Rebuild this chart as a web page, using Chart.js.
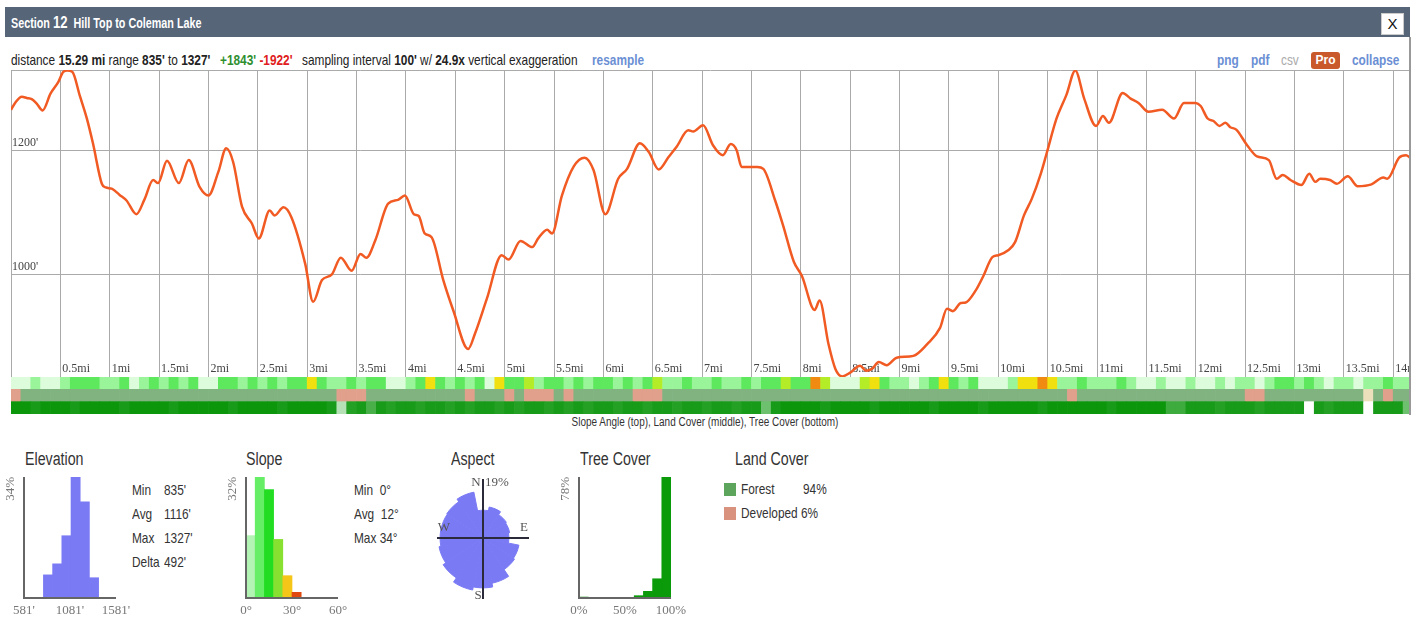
<!DOCTYPE html>
<html>
<head>
<meta charset="utf-8">
<script src="https://cdn.jsdelivr.net/npm/chart.js@4.4.1/dist/chart.umd.min.js"></script>
<style>
  body { margin: 0; width: 1418px; height: 619px; background: #fff; position: relative; overflow: hidden;
         font-family: "Liberation Sans", Arial, sans-serif; color: #222; }
  .abs { position: absolute; white-space: nowrap; }
  .nw { transform: scaleX(0.79); transform-origin: 0 50%; }
  #header { left: 5px; top: 7px; width: 1405px; height: 30px; background: #566578; }
  #title { left: 11px; top: 13px; color: #fff; font-weight: bold; font-size: 14px; transform: scaleX(0.77); transform-origin: 0 50%; }
  #title b { font-size: 17px; }
  #close { left: 1381px; top: 13px; width: 21px; height: 20px; background: #fff; border: 1px solid #ccc;
           font: 15px "Liberation Sans", sans-serif; text-align: center; line-height: 20px; color: #111; }
  .stat { top: 51px; font-size: 15px; }
  .stat b { font-weight: bold; }
  .link { color: #6b8fd4; font-weight: bold; }
  #pro { left: 1311px; top: 52px; width: 29px; height: 17px; background: #c9582a; color: #fff; border-radius: 3px;
         font-size: 12px; font-weight: bold; text-align: center; line-height: 17px; }
  #rborder { left: 1409px; top: 37px; width: 2px; height: 378px; background: #999; }
  #bandNote { left: 0; width: 1410px; top: 415px; text-align: center; font-size: 12px; color: #333;
              transform: scaleX(0.83); transform-origin: 705px 50%; }
  .ptitle { top: 449px; font-size: 18px; color: #333; }
  .pstat { font-size: 15px; color: #333; }
  .sq { width: 12px; height: 13px; }
  canvas { position: absolute; }
</style>
</head>
<body>
<div id="header" class="abs"></div>
<div id="title" class="abs">Section <b>12</b>&nbsp; Hill Top to Coleman Lake</div>
<div id="close" class="abs">X</div>

<div class="abs stat nw" style="left:11px">distance <b>15.29 mi</b> range <b>835'</b> to <b>1327'</b></div>
<div class="abs stat nw" style="left:220px"><b style="color:#2f8f2f">+1843'</b> <b style="color:#e02020">-1922'</b></div>
<div class="abs stat nw" style="left:302px">sampling interval <b>100'</b> w/ <b>24.9x</b> vertical exaggeration</div>
<div class="abs stat link nw" style="left:592px">resample</div>
<div class="abs stat link nw" style="left:1217px">png</div>
<div class="abs stat link nw" style="left:1251px">pdf</div>
<div class="abs stat nw" style="left:1281px;color:#aaa">csv</div>
<div id="pro" class="abs">Pro</div>
<div class="abs stat link nw" style="left:1352px">collapse</div>

<canvas id="profile" width="1399" height="307" style="left:11px;top:70px"></canvas>
<canvas id="bands" width="1399" height="37" style="left:11px;top:377px"></canvas>
<div id="rborder" class="abs"></div>
<div id="bandNote" class="abs">Slope Angle (top), Land Cover (middle), Tree Cover (bottom)</div>

<div class="abs ptitle nw" style="left:25px">Elevation</div>
<div class="abs ptitle nw" style="left:246px">Slope</div>
<div class="abs ptitle nw" style="left:451px">Aspect</div>
<div class="abs ptitle nw" style="left:580px">Tree Cover</div>
<div class="abs ptitle nw" style="left:735px">Land Cover</div>

<div class="abs pstat nw" style="left:132px;top:481px">Min</div><div class="abs pstat nw" style="left:164px;top:481px">835'</div>
<div class="abs pstat nw" style="left:132px;top:505px">Avg</div><div class="abs pstat nw" style="left:164px;top:505px">1116'</div>
<div class="abs pstat nw" style="left:132px;top:529px">Max</div><div class="abs pstat nw" style="left:164px;top:529px">1327'</div>
<div class="abs pstat nw" style="left:132px;top:553px">Delta</div><div class="abs pstat nw" style="left:164px;top:553px">492'</div>

<div class="abs pstat nw" style="left:354px;top:481px">Min&nbsp; 0°</div>
<div class="abs pstat nw" style="left:354px;top:505px">Avg&nbsp; 12°</div>
<div class="abs pstat nw" style="left:354px;top:529px">Max 34°</div>

<div class="abs sq" style="left:724px;top:483px;background:#5da55d"></div>
<div class="abs pstat nw" style="left:741px;top:480px">Forest</div><div class="abs pstat nw" style="left:803px;top:480px">94%</div>
<div class="abs sq" style="left:724px;top:507px;background:#d9927e"></div>
<div class="abs pstat nw" style="left:741px;top:504px">Developed 6%</div>

<canvas id="elevHist" width="140" height="154" style="left:0;top:465px"></canvas>
<canvas id="slopeHist" width="140" height="154" style="left:222px;top:465px"></canvas>
<canvas id="aspectRose" width="140" height="140" style="left:413px;top:468px"></canvas>
<canvas id="treeHist" width="140" height="154" style="left:555px;top:465px"></canvas>

<script>
// elevation profile (miles / feet)
const elevMiles = [0.00, 0.05, 0.11, 0.16, 0.21, 0.26, 0.32, 0.40, 0.48, 0.53, 0.57, 0.62, 0.70, 0.77, 0.83, 0.92, 0.96,
  1.02, 1.10, 1.17, 1.27, 1.35, 1.44, 1.49, 1.58, 1.70, 1.80, 1.91, 2.00, 2.10, 2.18, 2.25, 2.34, 2.44, 2.51, 2.62,
  2.67, 2.76, 2.84, 2.98, 3.06, 3.15, 3.25, 3.34, 3.45, 3.54, 3.60, 3.69, 3.82, 3.92, 3.99, 4.08, 4.13, 4.19, 4.26,
  4.38, 4.48, 4.63, 4.70, 4.82, 4.97, 5.04, 5.16, 5.28, 5.34, 5.43, 5.48, 5.58, 5.70, 5.81, 5.90, 6.02, 6.15, 6.24,
  6.37, 6.46, 6.56, 6.66, 6.74, 6.86, 6.91, 7.01, 7.11, 7.21, 7.29, 7.35, 7.40, 7.56, 7.62, 7.74, 7.82, 7.93, 8.01,
  8.14, 8.19, 8.28, 8.35, 8.42, 8.50, 8.60, 8.66, 8.72, 8.79, 8.87, 8.97, 9.14, 9.28, 9.41, 9.48, 9.54, 9.62, 9.67,
  9.77, 9.85, 9.94, 10.00, 10.10, 10.17, 10.26, 10.34, 10.43, 10.49, 10.59, 10.69, 10.78, 10.87, 10.99, 11.06, 11.12,
  11.26, 11.34, 11.42, 11.52, 11.66, 11.78, 11.88, 12.00, 12.05, 12.12, 12.18, 12.24, 12.30, 12.35, 12.41, 12.52,
  12.62, 12.74, 12.82, 12.88, 12.96, 13.07, 13.15, 13.21, 13.26, 13.36, 13.43, 13.54, 13.64, 13.78, 13.90, 13.94,
  14.06, 14.13, 14.17];
const elevFeet = [1265, 1278, 1286, 1284, 1282, 1275, 1264, 1291, 1310, 1326, 1328, 1326, 1286, 1250, 1211, 1146, 1140,
  1138, 1128, 1119, 1097, 1120, 1152, 1147, 1183, 1147, 1184, 1141, 1127, 1165, 1203, 1181, 1109, 1082, 1058, 1103,
  1095, 1108, 1092, 1017, 956, 991, 1000, 1027, 1006, 1033, 1027, 1055, 1114, 1120, 1127, 1097, 1094, 1066, 1060,
  990, 942, 880, 905, 961, 1031, 1024, 1054, 1044, 1058, 1072, 1066, 1127, 1174, 1188, 1168, 1097, 1154, 1170,
  1211, 1197, 1169, 1189, 1205, 1232, 1230, 1240, 1208, 1192, 1210, 1200, 1173, 1173, 1170, 1119, 1079, 1020, 998,
  943, 958, 888, 848, 836, 842, 853, 845, 848, 859, 854, 866, 869, 888, 914, 945, 941, 954, 955,
  974, 998, 1028, 1031, 1039, 1052, 1095, 1122, 1162, 1195, 1251, 1289, 1328, 1283, 1239, 1255, 1244,
  1292, 1283, 1276, 1262, 1265, 1251, 1276, 1276, 1271, 1251, 1247, 1239, 1244, 1237, 1233, 1208,
  1190, 1184, 1154, 1160, 1152, 1144, 1162, 1149, 1154, 1152, 1146, 1158, 1142, 1145, 1156, 1154,
  1188, 1192, 1188];

const xTickLabels = ['0.5mi', '1mi', '1.5mi', '2mi', '2.5mi', '3mi', '3.5mi', '4mi', '4.5mi', '5mi', '5.5mi', '6mi',
  '6.5mi', '7mi', '7.5mi', '8mi', '8.5mi', '9mi', '9.5mi', '10mi', '10.5mi', '11mi', '11.5mi', '12mi', '12.5mi',
  '13mi', '13.5mi', '14mi'];
const yTickValues = [1000, 1200];
const yTickLabels = ["1000'", "1200'"];

// strips under the profile, one cell per 0.1 mi
const cellMiles = 0.1;
const slopeClass = [
  0, 0, 1, 0, 0, 1, 2, 2, 2, 1,  1, 2, 0, 1, 2, 1, 2, 1, 2, 0,
  0, 2, 2, 1, 2, 1, 2, 1, 2, 2,  4, 2, 1, 1, 2, 1, 2, 2, 0, 0,
  1, 2, 4, 2, 1, 2, 1, 2, 0, 4,  2, 2, 3, 1, 2, 2, 1, 2, 1, 2,
  2, 1, 2, 1, 2, 3, 1, 1, 2, 1,  1, 2, 1, 1, 2, 1, 2, 2, 3, 2,
  2, 5, 3, 0, 0, 0, 3, 4, 2, 1,  1, 0, 1, 2, 4, 2, 1, 2, 0, 0,
  0, 1, 4, 4, 5, 4, 1, 1, 2, 1,  1, 1, 2, 1, 0, 0, 1, 0, 0, 1,
  0, 0, 1, 0, 1, 1, 0, 1, 2, 2,  1, 2, 1, 0, 1, 1, 0, 1, 1, 2,
  1, 1];
const landCover = [
  1, 0, 0, 0, 0, 0, 0, 0, 0, 0,  0, 0, 0, 0, 0, 0, 0, 0, 0, 0,
  0, 0, 0, 0, 0, 0, 0, 0, 0, 0,  0, 0, 0, 1, 1, 1, 0, 0, 0, 0,
  0, 0, 0, 0, 0, 0, 1, 0, 0, 0,  1, 0, 1, 1, 1, 0, 1, 0, 0, 0,
  0, 0, 0, 1, 1, 1, 0, 0, 0, 0,  0, 0, 0, 0, 0, 0, 0, 0, 0, 0,
  0, 0, 0, 0, 0, 0, 0, 0, 0, 0,  0, 0, 0, 0, 0, 0, 0, 0, 0, 0,
  0, 0, 0, 0, 0, 0, 0, 1, 0, 0,  0, 0, 0, 0, 0, 0, 0, 0, 0, 0,
  0, 0, 0, 0, 0, 1, 1, 0, 0, 0,  0, 0, 0, 0, 0, 0, 0, 2, 0, 1,
  0, 0];
const treeCover = [
  100, 100, 95, 100, 100, 100, 95, 100, 100, 100,  100, 95, 100, 100, 100, 100, 95, 100, 100, 100,
  100, 100, 95, 100, 100, 100, 100, 95, 100, 100,  100, 100, 95, 30, 90, 95, 75, 95, 90, 95,
  95, 90, 95, 95, 90, 95, 90, 95, 95, 90,  95, 90, 95, 95, 90, 95, 90, 95, 90, 95,
  95, 90, 95, 95, 90, 95, 95, 90, 95, 95,  90, 95, 95, 90, 95, 95, 60, 95, 100, 100,
  100, 100, 95, 100, 100, 100, 100, 95, 100, 100,  100, 100, 100, 95, 100, 100, 100, 100, 95, 100,
  100, 100, 100, 100, 95, 100, 100, 100, 100, 100,  100, 95, 100, 100, 100, 100, 100, 80, 80, 95,
  95, 95, 90, 95, 95, 95, 90, 95, 95, 95,  95, 0, 95, 90, 95, 95, 95, 0, 95, 95,
  95, 60];

// summary histograms
const elevBins = [842, 942, 1042, 1142, 1242, 1342];
const elevPct = [6.5, 9.6, 17.5, 34, 27, 5.7];
const slopeBins = [3, 9, 15, 21, 27, 33];
const slopePct = [16.5, 32, 28.7, 15.5, 5.9, 1.5];
const treeBins = [5, 15, 25, 35, 45, 55, 65, 75, 85, 95];
const treePct = [0.6, 0, 0, 0, 0, 0.4, 1.5, 4.3, 12.4, 78];
const aspectDirs = ['N', 'NNE', 'NE', 'ENE', 'E', 'ESE', 'SE', 'SSE', 'S', 'SSW', 'SW', 'WSW', 'W', 'WNW', 'NW', 'NNW'];
const aspectPct = [8.8, 10, 8.9, 8.6, 8.2, 11.6, 12, 14.6, 15.8, 16.8, 15.2, 14.2, 13.6, 13.6, 13.8, 14.8];

const slopeColors = ['#dcfcdc', '#9af59a', '#5ee85e', '#b5ec28', '#f0e010', '#f08a10'];
const landColors = ['#80b380', '#e0a08c', '#ece0bc'];
const roseColor = '#7a7af5';

function treeColor(p) {
  const t = p / 100;
  const r = Math.round(255 + (12 - 255) * t);
  const g = Math.round(255 + (150 - 255) * t);
  const b = Math.round(255 + (12 - 255) * t);
  return `rgb(${r},${g},${b})`;
}

Chart.defaults.animation = false;
Chart.defaults.responsive = false;
Chart.defaults.plugins.legend.display = false;
Chart.defaults.plugins.tooltip.enabled = false;

const profileLabels = {
  id: 'profileLabels',
  beforeDatasetsDraw(chart) {
    const { ctx, chartArea, scales: { x, y } } = chart;
    ctx.save();
    ctx.font = '12px "Liberation Serif", serif';
    ctx.fillStyle = '#444';
    ctx.textBaseline = 'alphabetic';
    yTickValues.forEach((v, i) => ctx.fillText(yTickLabels[i], chartArea.left + 1, y.getPixelForValue(v) - 4));
    xTickLabels.forEach(l => ctx.fillText(l, x.getPixelForValue(parseFloat(l)) + 2, chartArea.bottom - 5));
    ctx.restore();
  }
};

new Chart(document.getElementById('profile'), {
  type: 'line',
  data: {
    datasets: [{
      data: elevMiles.map((m, i) => ({ x: m, y: elevFeet[i] })),
      borderColor: '#f15a22',
      borderWidth: 2.5,
      pointRadius: 0,
      cubicInterpolationMode: 'monotone',
      fill: false
    }]
  },
  options: {
    layout: { padding: 0 },
    scales: {
      x: {
        type: 'linear', min: 0, max: 14.17,
        afterBuildTicks: s => { s.ticks = [0, ...xTickLabels.map(parseFloat)].map(v => ({ value: v })); },
        ticks: { display: false },
        grid: { color: '#aaa', drawTicks: false },
        border: { display: false }
      },
      y: {
        min: 835, max: 1329,
        afterBuildTicks: s => { s.ticks = [...yTickValues, 1329].map(v => ({ value: v })); },
        ticks: { display: false },
        grid: { color: '#aaa', drawTicks: false },
        border: { display: false }
      }
    }
  },
  plugins: [profileLabels]
});

const cellX = i => (i + 0.5) * cellMiles;
new Chart(document.getElementById('bands'), {
  type: 'bar',
  data: {
    datasets: [
      { label: 'Tree Cover', data: treeCover.map((v, i) => ({ x: cellX(i), y: 1 })), backgroundColor: treeCover.map(treeColor) },
      { label: 'Land Cover', data: landCover.map((v, i) => ({ x: cellX(i), y: 1 })), backgroundColor: landCover.map(v => landColors[v]) },
      { label: 'Slope Angle', data: slopeClass.map((v, i) => ({ x: cellX(i), y: 1 })), backgroundColor: slopeClass.map(v => slopeColors[v]) }
    ]
  },
  options: {
    layout: { padding: 0 },
    datasets: { bar: { barPercentage: 1, categoryPercentage: 1, borderWidth: 0 } },
    scales: {
      x: { type: 'linear', min: 0, max: 14.17, offset: false, stacked: true, display: false },
      y: { stacked: true, min: 0, max: 3, display: false }
    }
  }
});

const histAxes = {
  id: 'histAxes',
  afterDatasetsDraw(chart, args, opts) {
    const { ctx, chartArea: a, scales: { x } } = chart;
    ctx.save();
    ctx.strokeStyle = '#666';
    ctx.lineWidth = 2;
    ctx.beginPath();
    ctx.moveTo(a.left, a.top);
    ctx.lineTo(a.left, a.bottom);
    ctx.lineTo(a.right, a.bottom);
    ctx.stroke();
    ctx.font = '13px "Liberation Serif", serif';
    ctx.fillStyle = '#777';
    ctx.textAlign = 'center';
    ctx.textBaseline = 'middle';
    opts.ticks.forEach((v, i) => ctx.fillText(opts.labels[i], x.getPixelForValue(v), a.bottom + 13));
    ctx.translate(a.left - 7, a.top);
    ctx.rotate(-Math.PI / 2);
    ctx.textAlign = 'right';
    ctx.textBaseline = 'bottom';
    ctx.fillText(opts.maxLabel, 0, 0);
    ctx.restore();
  }
};

function makeHist(id, bins, pct, colors, xMin, xMax, yMax, ticks, labels) {
  new Chart(document.getElementById(id), {
    type: 'bar',
    data: { datasets: [{ data: bins.map((b, i) => ({ x: b, y: pct[i] })), backgroundColor: colors }] },
    options: {
      layout: { padding: { left: 24, right: 24, top: 12, bottom: 21 } },
      datasets: { bar: { barPercentage: 1, categoryPercentage: 1, borderWidth: 0 } },
      scales: {
        x: { type: 'linear', min: xMin, max: xMax, offset: false, display: false },
        y: { min: 0, max: yMax, display: false }
      },
      plugins: { histAxes: { ticks, labels, maxLabel: yMax + '%' } }
    },
    plugins: [histAxes]
  });
}

makeHist('elevHist', elevBins, elevPct, roseColor, 581, 1581, 34, [581, 1081, 1581], ["581'", "1081'", "1581'"]);
makeHist('slopeHist', slopeBins, slopePct, ['#b3f3b3', '#66ee66', '#22dd22', '#88e030', '#f5c518', '#e04a10'], 0, 60, 32, [0, 30, 60], ['0°', '30°', '60°']);
makeHist('treeHist', treeBins, treePct, '#0a9a0a', 0, 100, 78, [0, 50, 100], ['0%', '50%', '100%']);

const roseCross = {
  id: 'roseCross',
  afterDatasetsDraw(chart) {
    const { ctx } = chart;
    const r = chart.scales.r;
    const cx = r.xCenter, cy = r.yCenter;
    ctx.save();
    ctx.strokeStyle = '#2a2a3a';
    ctx.lineWidth = 2;
    ctx.beginPath();
    ctx.moveTo(cx - 46, cy); ctx.lineTo(cx + 46, cy);
    ctx.moveTo(cx, cy - 59); ctx.lineTo(cx, cy + 61);
    ctx.stroke();
    ctx.font = '13px "Liberation Serif", serif';
    ctx.fillStyle = '#555';
    ctx.textBaseline = 'middle';
    ctx.textAlign = 'center';
    ctx.fillText('N', cx - 7, cy - 55);
    ctx.fillText('S', cx - 5, cy + 58);
    ctx.fillText('W', cx - 39, cy - 10);
    ctx.fillText('E', cx + 41, cy - 10);
    ctx.textAlign = 'left';
    ctx.fillText('19%', cx + 2, cy - 55);
    ctx.restore();
  }
};

new Chart(document.getElementById('aspectRose'), {
  type: 'polarArea',
  data: {
    labels: aspectDirs,
    datasets: [{ data: aspectPct, backgroundColor: roseColor, borderColor: roseColor, borderWidth: 1 }]
  },
  options: {
    layout: { padding: 10 },
    scales: { r: { min: 0, max: 19, startAngle: -11.25, display: false } }
  },
  plugins: [roseCross]
});
</script>
</body>
</html>
